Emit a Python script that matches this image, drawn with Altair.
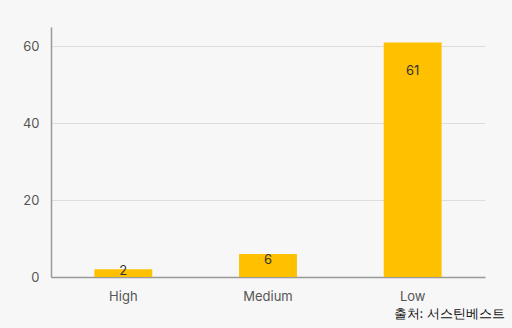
import altair as alt
import pandas as pd

categories = ["High", "Medium", "Low"]
values = [2, 6, 61]
source = "출처: 서스틴베스트"

df = pd.DataFrame({"cat": categories, "v": values})

FONT = "Inter"

base = alt.Chart(df).encode(
    x=alt.X("cat:N", sort=categories,
            scale=alt.Scale(paddingInner=0.6, paddingOuter=0.3),
            axis=alt.Axis(title=None, labelAngle=0, ticks=False, labelPadding=13,
                          labelFontSize=13, labelColor="#555555", labelFont=FONT,
                          domainColor="#999999", domainWidth=1.5)),
)

bars = base.mark_bar(color="#FFC000").encode(
    y=alt.Y("v:Q", scale=alt.Scale(domain=[0, 65]),
            axis=alt.Axis(title=None, values=[0, 20, 40, 60], ticks=False, labelPadding=12,
                          labelFontSize=13, labelColor="#555555", labelFont=FONT,
                          gridColor="#dddddd", domainColor="#999999", domainWidth=1.5))
)

labels = base.transform_calculate(
    pos="datum.v > 20 ? datum.v - 7.5 : datum.v * 0.75"
).mark_text(fontSize=13, color="#333333", font=FONT, baseline="middle").encode(
    y=alt.Y("pos:Q"),
    text=alt.Text("v:Q"),
)

chart = (bars + labels).properties(
    width=434, height=250,
    background="#f7f7f7",
    padding={"left": 51, "top": 27, "right": 27, "bottom": 51},
    autosize=alt.AutoSizeParams(type="none"),
    title=alt.TitleParams(source, orient="bottom", anchor="end", fontSize=13,
                          font=FONT, fontWeight="normal", color="#111111",
                          offset=5, dx=20),
).configure_view(stroke=None)

chart.save("out.html", embed_options={"renderer": "svg", "actions": False})
